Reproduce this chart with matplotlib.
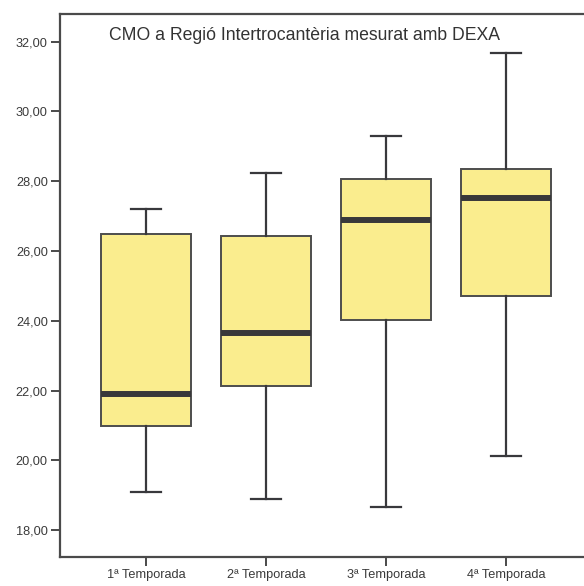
import matplotlib
matplotlib.use("Agg")
import matplotlib.pyplot as plt

plt.rcParams['font.family'] = ['Liberation Sans', 'DejaVu Sans']

# Seasons and box-plot summaries of BMC (Intertrochanteric region, DEXA)
categories = ["1ª Temporada", "2ª Temporada", "3ª Temporada", "4ª Temporada"]
whisker_low = [19.10, 18.90, 18.66, 20.13]
q1 = [20.99, 22.13, 24.01, 24.72]
median = [21.89, 23.64, 26.89, 27.52]
q3 = [26.48, 26.43, 28.06, 28.35]
whisker_high = [27.20, 28.23, 29.30, 31.68]
yticks = [18, 20, 22, 24, 26, 28, 30, 32]
title = "CMO a Regió Intertrocantèria mesurat amb DEXA"

stats = []
for lab, lo, a, m, b, hi in zip(categories, whisker_low, q1, median, q3, whisker_high):
    stats.append(dict(label=lab, whislo=lo, q1=a, med=m, q3=b, whishi=hi, fliers=[]))

fig = plt.figure(figsize=(5.84, 5.86), dpi=100)
ax = fig.add_axes([60 / 584, 29 / 586, 532 / 584, 543 / 586])

positions = list(range(1, len(categories) + 1))
ax.bxp(
    stats,
    positions=positions,
    widths=0.75,
    capwidths=0.25,
    patch_artist=True,
    showfliers=False,
    boxprops=dict(facecolor="#FAED8E", edgecolor="#4d4d4d", linewidth=1.4),
    whiskerprops=dict(color="#38383c", linewidth=1.6),
    capprops=dict(color="#38383c", linewidth=1.6),
    medianprops=dict(color="#38383a", linewidth=4.3, solid_capstyle="butt"),
)

ax.set_xlim(0.283, 4.717)
ax.set_ylim(17.23, 32.79)
ax.set_yticks(yticks)
ax.set_yticklabels([f"{v:.2f}".replace(".", ",") for v in yticks])
ax.set_xticks(positions)
ax.set_xticklabels(categories)

for side in ("left", "bottom", "top", "right"):
    ax.spines[side].set_color("#4a4a4a")
    ax.spines[side].set_linewidth(1.6)

ax.tick_params(axis="both", direction="out", length=6.8, width=1.4,
               color="#4a4a4a", labelsize=9.2, labelcolor="#3a3a3a", pad=2)

ax.text(0.4605, 0.96, title, transform=ax.transAxes, ha="center", va="center",
        fontsize=12.7, color="#333333")

fig.savefig("out.png", dpi=100)
